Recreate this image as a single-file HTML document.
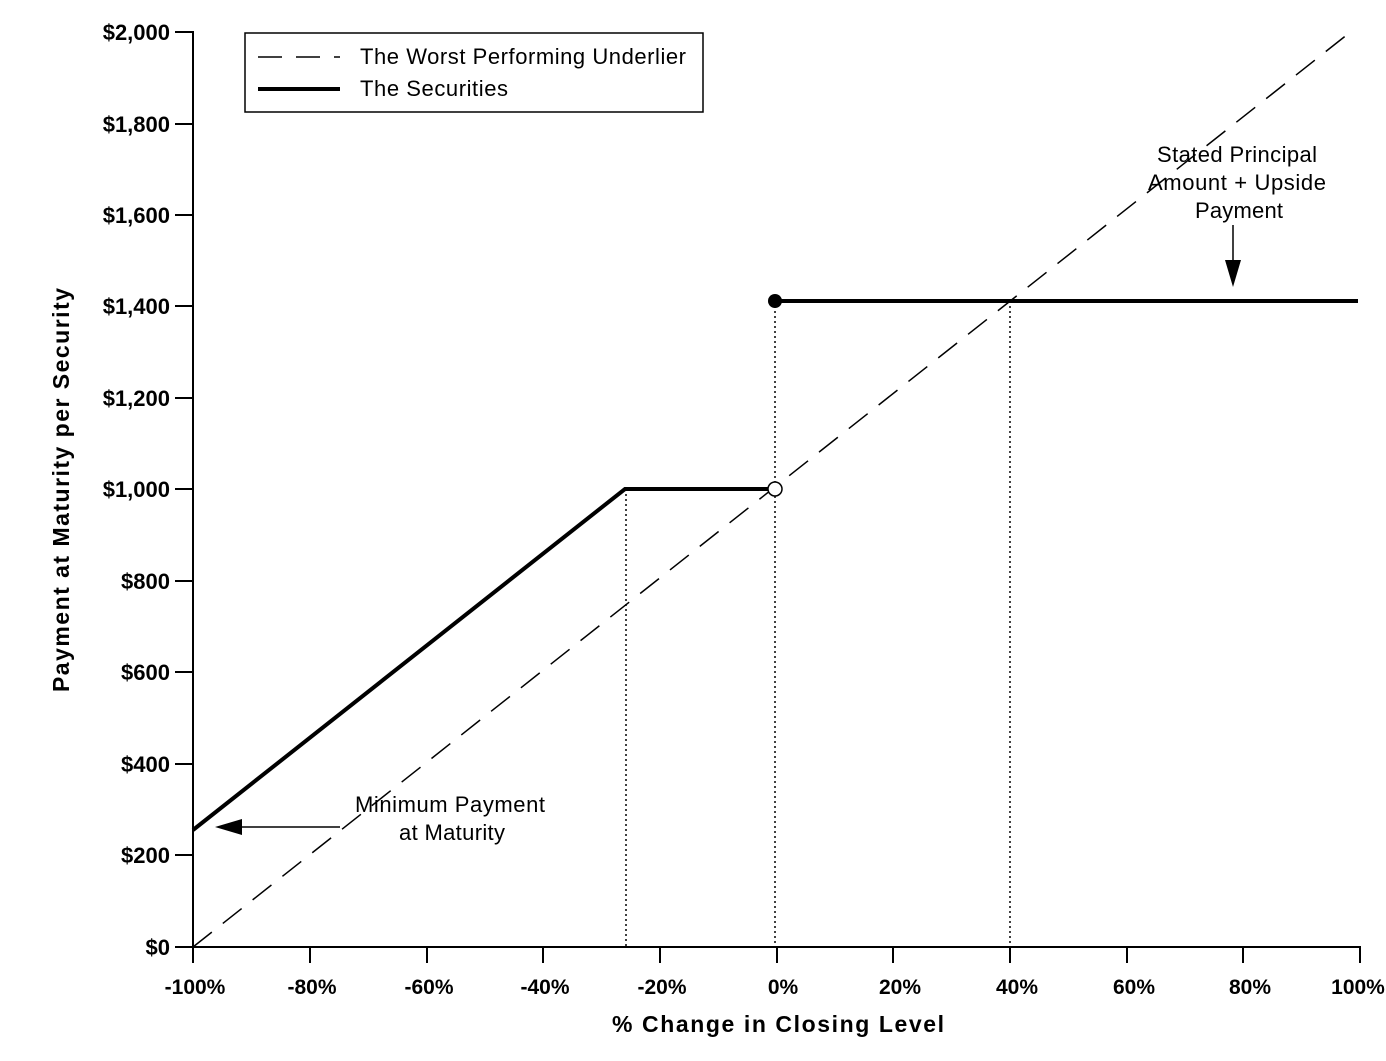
<!DOCTYPE html>
<html><head><style>body{margin:0;background:#fff}svg text{font-family:"Liberation Sans",Arial,sans-serif;fill:#000}</style></head><body>
<svg width="1386" height="1056" xmlns="http://www.w3.org/2000/svg">
<g stroke="#000" stroke-width="2">
<line x1="193" y1="31" x2="193" y2="963"/>
<line x1="175" y1="947" x2="1361" y2="947"/>
<line x1="175" y1="32" x2="193" y2="32"/><line x1="175" y1="124" x2="193" y2="124"/><line x1="175" y1="215" x2="193" y2="215"/><line x1="175" y1="306" x2="193" y2="306"/><line x1="175" y1="398" x2="193" y2="398"/><line x1="175" y1="489" x2="193" y2="489"/><line x1="175" y1="581" x2="193" y2="581"/><line x1="175" y1="672" x2="193" y2="672"/><line x1="175" y1="764" x2="193" y2="764"/><line x1="175" y1="855" x2="193" y2="855"/>
<line x1="310" y1="947" x2="310" y2="963"/><line x1="427" y1="947" x2="427" y2="963"/><line x1="543" y1="947" x2="543" y2="963"/><line x1="660" y1="947" x2="660" y2="963"/><line x1="777" y1="947" x2="777" y2="963"/><line x1="893" y1="947" x2="893" y2="963"/><line x1="1010" y1="947" x2="1010" y2="963"/><line x1="1127" y1="947" x2="1127" y2="963"/><line x1="1243" y1="947" x2="1243" y2="963"/><line x1="1360" y1="947" x2="1360" y2="963"/>
</g>
<g font-size="22" text-anchor="end" font-weight="bold">
<text x="170" y="40">$2,000</text><text x="170" y="132">$1,800</text><text x="170" y="223">$1,600</text><text x="170" y="314">$1,400</text><text x="170" y="406">$1,200</text><text x="170" y="497">$1,000</text><text x="170" y="589">$800</text><text x="170" y="680">$600</text><text x="170" y="772">$400</text><text x="170" y="863">$200</text><text x="170" y="955">$0</text>
</g>
<g font-size="21" text-anchor="middle" font-weight="bold">
<text x="195" y="994">-100%</text><text x="312" y="994">-80%</text><text x="429" y="994">-60%</text><text x="545" y="994">-40%</text><text x="662" y="994">-20%</text><text x="783" y="994">0%</text><text x="900" y="994">20%</text><text x="1017" y="994">40%</text><text x="1134" y="994">60%</text><text x="1250" y="994">80%</text><text x="1358" y="994">100%</text>
</g>
<text x="612" y="1032" font-size="23" font-weight="bold" textLength="332">% Change in Closing Level</text>
<text transform="translate(69,692) rotate(-90)" font-size="23" font-weight="bold" textLength="404">Payment at Maturity per Security</text>
<g stroke="#000" stroke-width="1.5" stroke-dasharray="2,3">
<line x1="626" y1="489" x2="626" y2="947"/><line x1="775" y1="301" x2="775" y2="947"/><line x1="1010" y1="301" x2="1010" y2="947"/>
</g>
<line x1="193" y1="947" x2="1353" y2="30" stroke="#000" stroke-width="1.5" stroke-dasharray="24,14"/>
<polyline points="193,830 625,489 775,489" fill="none" stroke="#000" stroke-width="4"/>
<line x1="775" y1="301" x2="1358" y2="301" stroke="#000" stroke-width="4"/>
<circle cx="775" cy="301" r="7" fill="#000"/>
<circle cx="775" cy="489" r="7" fill="#fff" stroke="#000" stroke-width="1.5"/>
<rect x="245" y="33" width="458" height="79" fill="#fff" stroke="#000" stroke-width="1.5"/>
<line x1="258" y1="57" x2="340" y2="57" stroke="#000" stroke-width="1.5" stroke-dasharray="24,14"/>
<line x1="258" y1="89" x2="340" y2="89" stroke="#000" stroke-width="4"/>
<text x="360" y="64" font-size="22" textLength="326">The Worst Performing Underlier</text>
<text x="360" y="96" font-size="22" textLength="148">The Securities</text>
<g font-size="22">
<text x="1157" y="162" textLength="160">Stated Principal</text><text x="1148" y="190" textLength="178">Amount + Upside</text><text x="1195" y="218" textLength="88">Payment</text>
<text x="355" y="812" textLength="190">Minimum Payment</text><text x="399" y="840" textLength="106">at Maturity</text>
</g>
<line x1="1233" y1="225" x2="1233" y2="262" stroke="#000" stroke-width="1.5"/>
<polygon points="1225,260 1241,260 1233,287" fill="#000"/>
<line x1="340" y1="827" x2="240" y2="827" stroke="#000" stroke-width="1.5"/>
<polygon points="242,819 242,835 215,827" fill="#000"/>
</svg>
</body></html>
